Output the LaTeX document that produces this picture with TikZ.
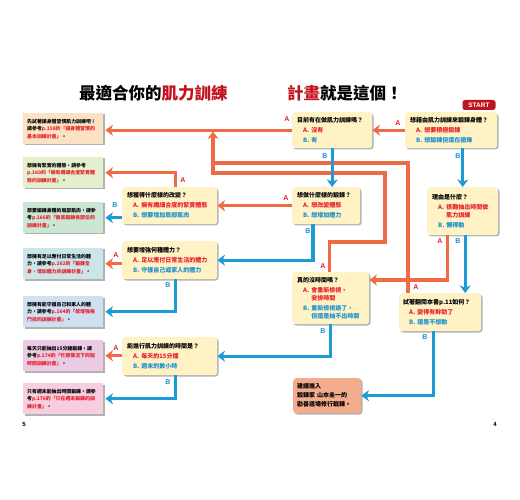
\documentclass[tikz,border=0pt]{standalone}
\usepackage{fontspec}
\setmainfont{Noto Sans CJK TC}
\newfontfamily\cjk{Noto Sans CJK TC}
\newfontfamily\lat{Liberation Sans}
\usetikzlibrary{arrows.meta,shadows,calc}
\definecolor{qfill}{HTML}{FFF3C6}
\definecolor{lA}{HTML}{FBE2C4}
\definecolor{lB}{HTML}{E3EFCD}
\definecolor{lC}{HTML}{CCE6D4}
\definecolor{lD}{HTML}{CAE6E8}
\definecolor{lE}{HTML}{CFE0F3}
\definecolor{lF}{HTML}{EACBE3}
\definecolor{lG}{HTML}{F7CEDF}
\definecolor{finfill}{HTML}{F4AD8C}
\definecolor{aorange}{HTML}{EF6B45}
\definecolor{ablue}{HTML}{1C9BD7}
\definecolor{ared}{HTML}{E8202A}
\definecolor{bblue}{HTML}{1A90D0}
\definecolor{tred}{HTML}{C3121E}
\definecolor{startred}{HTML}{C0141C}
\newcommand{\qa}[1]{\hspace*{6pt}\textcolor{ared}{#1}}
\newcommand{\qb}[1]{\hspace*{6pt}\textcolor{bblue}{#1}}
\newcommand{\qac}[1]{\hspace*{6pt}\textcolor{ared}{\phantom{A. }#1}}
\newcommand{\qbc}[1]{\hspace*{6pt}\textcolor{bblue}{\phantom{B. }#1}}
\newcommand{\rd}[1]{\textcolor{ared}{#1}}
\tikzset{
  shad/.style={drop shadow={shadow xshift=1.3pt,shadow yshift=-1.3pt,fill=black,opacity=.3}},
  qbox/.style={fill=qfill, rounded corners=3pt, shad, anchor=north west, inner xsep=5pt, inner ysep=0pt, align=left, font=\cjk\bfseries\fontsize{6}{10}\selectfont},
  lbox/.style={shad, anchor=north west, inner xsep=4pt, inner ysep=0pt, align=left, text width=72pt, minimum height=31pt, font=\cjk\bfseries\fontsize{4.9}{7.5}\selectfont},
  oline/.style={draw=aorange, line width=3.2pt},
  oarr/.style={oline, -{Stealth[length=7.5pt,width=11pt,inset=2.2pt]}},
  barr/.style={draw=ablue, line width=3.2pt, -{Stealth[length=7.5pt,width=11pt,inset=2.2pt]}},
  lab/.style={font=\lat\bfseries\fontsize{7}{8}\selectfont, inner sep=0},
  laba/.style={lab, text=ared},
  labb/.style={lab, text=bblue},
}
\begin{document}
\begin{tikzpicture}[x=1pt,y=-1pt]
\useasboundingbox[fill=white] (0,0) rectangle (520,500);

% title
\node[anchor=west, inner sep=0, font=\cjk\bfseries\fontsize{16.5}{18}\selectfont] (t1) at (79,93) {最適合你的\textcolor{tred}{肌力訓練}};
\node[anchor=west, inner sep=0, font=\cjk\bfseries\fontsize{16.5}{18}\selectfont] (t2) at (287,93) {\textcolor{tred}{計畫}就是這個！};
\node[fill=startred, rounded corners=2.5pt, text=white, font=\lat\bfseries\fontsize{6.5}{7}\selectfont, minimum width=33pt, minimum height=10pt, inner sep=0] (start) at (479,105) {START};

% question boxes
\node[qbox, text width=82pt, minimum height=36pt] (q1) at (405,112) {想藉由肌力訓練來鍛鍊身體？\\\qa{A. 想要積極鍛鍊}\\\qb{B. 想鍛鍊但還在猶豫}};
\node[qbox, text width=70pt, minimum height=36pt] (q2) at (292,112) {目前有在做肌力訓練嗎？\\\qa{A. 沒有}\\\qb{B. 有}};
\node[qbox, text width=58pt, minimum height=37pt] (qw) at (292,187) {想做什麼樣的鍛鍊？\\\qa{A. 想改變體態}\\\qb{B. 想增加體力}};
\node[qbox, text width=61pt, minimum height=48pt] (qr) at (427,187) {理由是什麼？\\\qa{A. 很難抽出時間做}\\[-2pt]\qac{肌力訓練}\\\qb{B. 懶得動}};
\node[qbox, text width=85pt, minimum height=37pt] (qc) at (122,187) {想獲得什麼樣的改變？\\\qa{A. 擁有纖細合度的緊實體態}\\\qb{B. 想要增加局部肌肉}};
\node[qbox, text width=85pt, minimum height=38pt] (qs) at (122,241) {想要增強何種體力？\\\qa{A. 足以應付日常生活的體力}\\\qb{B. 守護自己或家人的體力}};
\node[qbox, text width=85pt, minimum height=38pt] (qt) at (122,337) {能進行肌力訓練的時間是？\\\qa{A. 每天約15分鐘}\\\qb{B. 週末的數小時}};
\node[qbox, text width=67pt, minimum height=52pt] (qy) at (292,272) {真的沒時間嗎？\\\qa{A. 會重新檢視、}\\[-2pt]\qac{安排時間}\\\qb{B. 重新檢視過了，}\\[-2pt]\qbc{但還是抽不出時間}};
\node[qbox, text width=74pt, inner xsep=4pt, minimum height=38pt] (qb) at (399,293) {試著翻閱本書p.11如何？\\\qa{A. 變得有幹勁了}\\\qb{B. 還是不想動}};
\node[qbox, fill=finfill, text width=60pt, inner xsep=4pt, minimum height=35pt, font=\cjk\bfseries\fontsize{6}{9}\selectfont] (fin) at (293,378) {建議進入\\鍛鍊家 山本圭一的\\勸善道場修行鍛鍊。};

% left result boxes
\node[lbox, fill=lA] (l1) at (23,113) {先試著讓身體習慣肌力訓練吧！\\請參考\rd{p.158的「讓身體習慣的}\\\rd{基本訓練計畫」}。};
\node[lbox, fill=lB] (l2) at (23,157) {想擁有緊實的體態，請參考\\\rd{p.160的「擁有纖細合度緊實體}\\\rd{態的訓練計畫」}。};
\node[lbox, fill=lC] (l3) at (23,202) {想要鍛鍊身體的局部肌肉，請參\\考\rd{p.166的「徹底鍛鍊各部位的}\\\rd{訓練計畫」}。};
\node[lbox, fill=lD] (l4) at (23,248) {想擁有足以應付日常生活的體\\力，請參考\rd{p.162的「鍛鍊全}\\\rd{身、增加體力的訓練計畫」}。};
\node[lbox, fill=lE] (l5) at (23,296) {想擁有能守護自己和家人的體\\力，請參考\rd{p.164的「能增強格}\\\rd{鬥技的訓練計畫」}。};
\node[lbox, fill=lF] (l6) at (23,340) {每天只能抽出15分鐘鍛鍊，請\\參考\rd{p.174的「忙碌情況下的短}\\\rd{時間訓練計畫」}。};
\node[lbox, fill=lG] (l7) at (23,383) {只有週末能抽出時間鍛鍊，請參\\考\rd{p.176的「只在週末鍛鍊的訓}\\\rd{練計畫」}。};

% helper coordinates
\coordinate (ca) at ($(qc.north)+(5.5,0)$);
\coordinate (sb) at ($(qs.south)+(5.5,0)$);
\coordinate (tb) at ($(qt.south)+(5.5,0)$);
\coordinate (wb) at ($(qw.south west)+(21,0)$);
\coordinate (ra) at ($(qr.south)+(-15.5,0)$);
\coordinate (rb) at ($(qr.south)+(2.5,0)$);
\coordinate (ya) at ($(qy.north east)+(0,8)$);
\coordinate (bb) at ($(qb.south)+(-7,0)$);
\coordinate (yta) at ($(qy.north)+(-1.5,0)$);
\coordinate (ya1) at (385,242);
\coordinate (ya2) at (385,173);
\coordinate (jb) at (213,173);
\coordinate (jm) at (213,163);
\coordinate (jt) at (213,131.5);
\coordinate (bta) at ($(qb.north west)+(9,0)$);

% orange connectors
\draw[oarr] (q1.west) -- (q2.east);
\draw[oarr, shorten >=2pt] (q2.west) -- (q2.west -| l1.east);
\draw[oarr, shorten >=2pt] (ca) |- (l2.east);
\draw[oarr] (qw.west) -- (qw.west -| qc.east);
\draw[oarr, shorten >=2pt] (l4.east -| qs.west) -- (l4.east);
\draw[oarr, shorten >=2pt] (l6.east -| qt.west) -- (l6.east);
\draw[oline] (bta) |- (jm);
\draw[oarr] (yta) |- (ya1) -- (ya2) -- (jb) -- (jt);
\draw[oarr] (ra) |- (ya);

% blue connectors
\draw[barr] (q2.south) -- (q2.south |- qw.north);
\draw[barr] (qr.north |- q1.south) -- (qr.north);
\draw[barr, shorten >=2pt] (l3.east -| qc.west) -- (l3.east);
\draw[barr] (wb) |- (qs.east);
\draw[barr, shorten >=2pt] (sb) |- (l5.east);
\draw[barr, shorten >=2pt] (tb) |- (l7.east);
\draw[barr] (qy.south) |- (qt.east);
\draw[barr] (rb) -- (rb |- qb.north);
\draw[barr] (bb) |- (fin.east);

% labels
\node[laba] (la1) at (398,123) {A};
\node[laba] (la2) at (287,119) {A};
\node[labb] (lb2) at (325,156) {B};
\node[labb] (lb1) at (458,156) {B};
\node[laba] (lac) at (183,180) {A};
\node[labb] (lbc) at (115,205) {B};
\node[laba] (law) at (286,198) {A};
\node[labb] (lbw) at (308,231) {B};
\node[laba] (las) at (116,255) {A};
\node[labb] (lbs) at (168,285) {B};
\node[laba] (lar) at (440,241) {A};
\node[labb] (lbr) at (458,241) {B};
\node[laba] (lay) at (323,266) {A};
\node[labb] (lby) at (323,331) {B};
\node[laba] (lab) at (416,287) {A};
\node[labb] (lbb) at (425,337) {B};
\node[laba] (lat) at (116,348) {A};
\node[labb] (lbt) at (168,382) {B};

% page numbers
\node[font=\lat\bfseries\fontsize{6}{7}\selectfont, inner sep=0] (p5) at (24,424) {5};
\node[font=\lat\bfseries\fontsize{6}{7}\selectfont, inner sep=0] (p4) at (495,424) {4};
\end{tikzpicture}
\end{document}
